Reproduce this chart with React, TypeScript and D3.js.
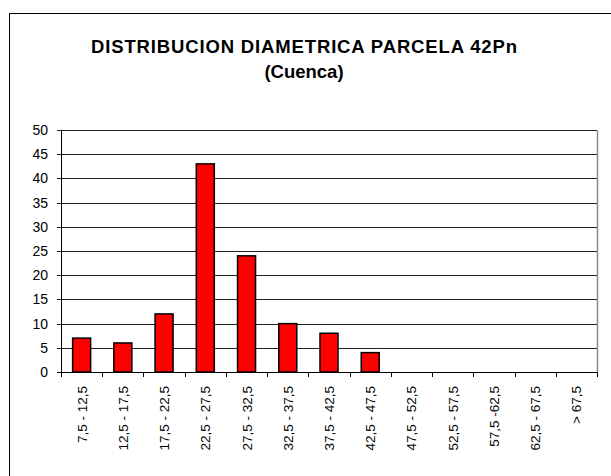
import React, { useEffect, useRef } from "react";
import * as d3 from "d3";

const categories = [
  "7,5 - 12,5", "12,5 - 17,5", "17,5 - 22,5", "22,5 - 27,5", "27,5 - 32,5",
  "32,5 - 37,5", "37,5 - 42,5", "42,5 - 47,5", "47,5 - 52,5", "52,5 - 57,5",
  "57,5 -62,5", "62,5 - 67,5", "> 67,5",
];
const counts = [7, 6, 12, 43, 24, 10, 8, 4, 0, 0, 0, 0, 0];
const yTicks = [0, 5, 10, 15, 20, 25, 30, 35, 40, 45, 50];
const titleLines = ["DISTRIBUCION DIAMETRICA PARCELA 42Pn", "(Cuenca)"];

const W = 611, H = 476;

export default function App() {
  const ref = useRef<SVGSVGElement>(null);

  useEffect(() => {
    const svg = d3.select(ref.current);
    svg.selectAll("*").remove();
    const font = "'Liberation Sans', Arial, sans-serif";

    // outer chart frame (runs off the picture right and bottom)
    svg.append("rect")
      .attr("x", 9.5).attr("y", 13.5)
      .attr("width", W).attr("height", H)
      .attr("fill", "#fff").attr("stroke", "#000").attr("stroke-width", 1);

    // title
    svg.selectAll(".title").data(titleLines).join("text")
      .attr("class", "title")
      .attr("x", 304).attr("y", (d, i) => 53 + i * 25)
      .attr("text-anchor", "middle")
      .attr("font-family", font).attr("font-weight", "bold").attr("font-size", 18.5)
      .attr("textLength", (d, i) => (i === 0 ? 426 : null))
      .attr("lengthAdjust", "spacing")
      .text(d => d);

    const left = 61, right = 597, top = 130, bottom = 372;

    const x = d3.scaleBand().domain(categories).range([left, right]).paddingInner(0).paddingOuter(0);
    const y = d3.scaleLinear().domain([0, 50]).range([bottom, top]);

    const g = svg.append("g");

    // gridlines
    g.selectAll(".grid").data(yTicks.slice(1)).join("line")
      .attr("class", "grid")
      .attr("x1", left - 4).attr("x2", right)
      .attr("y1", d => Math.round(y(d)) + 0.5).attr("y2", d => Math.round(y(d)) + 0.5)
      .attr("stroke", "#222").attr("stroke-width", 1);

    // right border of plot area
    g.append("line")
      .attr("x1", right + 0.5).attr("x2", right + 0.5)
      .attr("y1", Math.round(top) + 0.5).attr("y2", bottom)
      .attr("stroke", "#888").attr("stroke-width", 1.5);

    // bars
    const bw = 18;
    g.selectAll(".bar").data(counts).join("rect")
      .attr("class", "bar")
      .attr("x", (d, i) => x(categories[i])! + x.bandwidth() / 2 - bw / 2)
      .attr("y", d => y(d))
      .attr("width", bw)
      .attr("height", d => bottom - y(d))
      .attr("fill", d => (d > 0 ? "#ff0000" : "none"))
      .attr("stroke", d => (d > 0 ? "#000" : "none"))
      .attr("stroke-width", 1.5);

    // y axis
    g.append("line")
      .attr("x1", left + 0.5).attr("x2", left + 0.5)
      .attr("y1", top).attr("y2", bottom + 0.5)
      .attr("stroke", "#000");
    g.append("line")
      .attr("x1", left - 4).attr("x2", left)
      .attr("y1", bottom + 0.5).attr("y2", bottom + 0.5)
      .attr("stroke", "#000");
    g.selectAll(".ylab").data(yTicks).join("text")
      .attr("class", "ylab")
      .attr("x", left - 13).attr("y", d => y(d) + 5)
      .attr("text-anchor", "end")
      .attr("font-family", font).attr("font-size", 14)
      .text(d => d);

    // x axis
    g.append("line")
      .attr("x1", left).attr("x2", right)
      .attr("y1", bottom + 0.5).attr("y2", bottom + 0.5)
      .attr("stroke", "#000");
    const bounds = categories.map(c => x(c)!).concat([right]);
    g.selectAll(".xtick").data(bounds).join("line")
      .attr("class", "xtick")
      .attr("x1", d => Math.round(d) + 0.5).attr("x2", d => Math.round(d) + 0.5)
      .attr("y1", bottom).attr("y2", bottom + 5)
      .attr("stroke", "#000");
    g.selectAll(".xlab").data(categories).join("text")
      .attr("class", "xlab")
      .attr("transform", d => `translate(${x(d)! + x.bandwidth() / 2 + 5},${bottom + 14}) rotate(-90)`)
      .attr("text-anchor", "end")
      .attr("font-family", font).attr("font-size", 13.5)
      .text(d => d);
  }, []);

  return (
    <svg ref={ref} width={W} height={H}
      style={{ position: "absolute", left: 0, top: 0, background: "#fff" }} />
  );
}
